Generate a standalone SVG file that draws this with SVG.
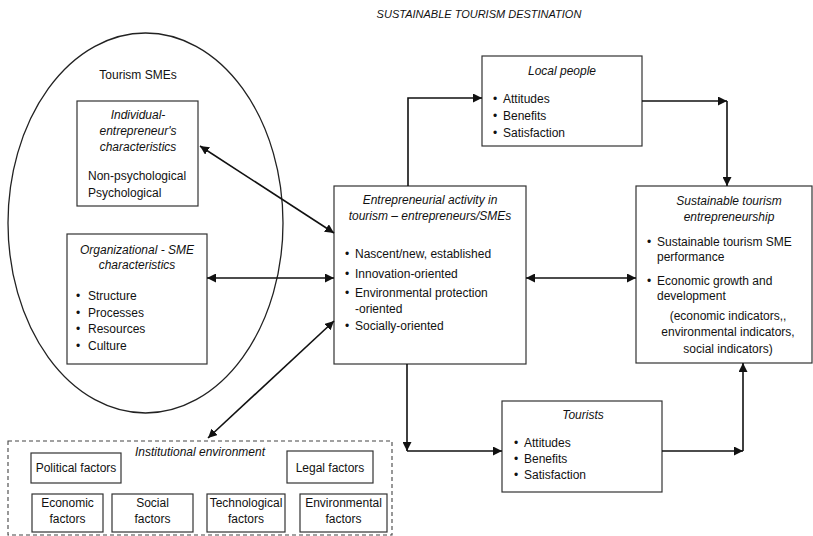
<svg xmlns="http://www.w3.org/2000/svg" width="813" height="536" viewBox="0 0 813 536">
<defs>
<marker id="ah" viewBox="0 0 10 10" refX="10" refY="5" markerWidth="9" markerHeight="9" markerUnits="userSpaceOnUse" orient="auto-start-reverse">
<path d="M0,0 L10,5 L0,10 z" fill="#111"/>
</marker>
<style>
text{font-family:"Liberation Sans",Arial,sans-serif;font-size:12px;fill:#111}
.i{font-style:italic}
.c{text-anchor:middle}
.box{fill:#fff;stroke:#333;stroke-width:1.2}
.ln{fill:none;stroke:#111;stroke-width:1.6}
</style>
</defs>
<rect width="813" height="536" fill="#fff"/>
<text x="479" y="18" class="i c" style="font-size:11px">SUSTAINABLE TOURISM DESTINATION</text>

<g id="tourism-smes">
<ellipse cx="145.5" cy="223" rx="137.5" ry="190" fill="none" stroke="#222" stroke-width="1.3"/>
<text x="138" y="79" class="c">Tourism SMEs</text>
</g>

<g id="individual">
<rect class="box" x="77" y="101" width="121" height="105"/>
<text x="138" y="119" class="i c">Individual-</text>
<text x="138" y="135" class="i c">entrepreneur's</text>
<text x="138" y="151" class="i c">characteristics</text>
<text x="88" y="180">Non-psychological</text>
<text x="88" y="197">Psychological</text>
</g>

<g id="organizational">
<rect class="box" x="67" y="234" width="140" height="130"/>
<text x="137" y="254" class="i c">Organizational - SME</text>
<text x="137" y="269" class="i c">characteristics</text>
<text x="76" y="300">•</text><text x="88" y="300">Structure</text>
<text x="76" y="317">•</text><text x="88" y="317">Processes</text>
<text x="76" y="333">•</text><text x="88" y="333">Resources</text>
<text x="76" y="350">•</text><text x="88" y="350">Culture</text>
</g>

<g id="central">
<rect class="box" x="334" y="186" width="192" height="178"/>
<text x="430" y="204" class="i c">Entrepreneurial activity in</text>
<text x="430" y="220" class="i c">tourism – entrepreneurs/SMEs</text>
<text x="345" y="258">•</text><text x="355" y="258">Nascent/new, established</text>
<text x="345" y="278">•</text><text x="355" y="278">Innovation-oriented</text>
<text x="345" y="297">•</text><text x="355" y="297">Environmental protection</text>
<text x="355" y="313">-oriented</text>
<text x="345" y="330">•</text><text x="355" y="330">Socially-oriented</text>
</g>

<g id="local-people">
<rect class="box" x="482" y="56" width="160" height="90"/>
<text x="562" y="75" class="i c">Local people</text>
<text x="493" y="103">•</text><text x="503" y="103">Attitudes</text>
<text x="493" y="120">•</text><text x="503" y="120">Benefits</text>
<text x="493" y="137">•</text><text x="503" y="137">Satisfaction</text>
</g>

<g id="sustainable">
<rect class="box" x="636" y="186" width="176" height="177"/>
<text x="729" y="205" class="i c">Sustainable tourism</text>
<text x="729" y="221" class="i c">entrepreneurship</text>
<text x="647" y="246">•</text><text x="657" y="246">Sustainable tourism SME</text>
<text x="657" y="261">performance</text>
<text x="647" y="285">•</text><text x="657" y="285">Economic growth and</text>
<text x="657" y="300">development</text>
<text x="728" y="320" class="c">(economic indicators,,</text>
<text x="728" y="336" class="c">environmental indicators,</text>
<text x="728" y="353" class="c">social indicators)</text>
</g>

<g id="tourists">
<rect class="box" x="502" y="401" width="160" height="91"/>
<text x="583" y="419" class="i c">Tourists</text>
<text x="514" y="447">•</text><text x="524" y="447">Attitudes</text>
<text x="514" y="463">•</text><text x="524" y="463">Benefits</text>
<text x="514" y="479">•</text><text x="524" y="479">Satisfaction</text>
</g>

<g id="institutional">
<rect x="8" y="441" width="384" height="94" fill="none" stroke="#444" stroke-width="1.1" stroke-dasharray="4,3"/>
<text x="200" y="456" class="i c">Institutional environment</text>
<rect class="box" x="31" y="453" width="90" height="30"/>
<text x="76" y="472" class="c">Political factors</text>
<rect class="box" x="287" y="451" width="86" height="32"/>
<text x="330" y="472" class="c">Legal factors</text>
<rect class="box" x="32" y="494" width="71" height="38"/>
<text x="67.5" y="507" class="c">Economic</text><text x="67.5" y="523" class="c">factors</text>
<rect class="box" x="112" y="494" width="81" height="38"/>
<text x="152.5" y="507" class="c">Social</text><text x="152.5" y="523" class="c">factors</text>
<rect class="box" x="207" y="494" width="78" height="38"/>
<text x="246" y="507" class="c">Technological</text><text x="246" y="523" class="c">factors</text>
<rect class="box" x="300" y="494" width="87" height="38"/>
<text x="343.5" y="507" class="c">Environmental</text><text x="343.5" y="523" class="c">factors</text>
</g>

<g id="connectors">
<line class="ln" x1="200" y1="146" x2="334" y2="233" marker-start="url(#ah)" marker-end="url(#ah)"/>
<line class="ln" x1="207" y1="278" x2="334" y2="278" marker-start="url(#ah)" marker-end="url(#ah)"/>
<line class="ln" x1="208" y1="438" x2="334" y2="321" marker-start="url(#ah)" marker-end="url(#ah)"/>
<line class="ln" x1="526" y1="278" x2="636" y2="278" marker-start="url(#ah)" marker-end="url(#ah)"/>
<polyline class="ln" points="408,186 408,98 482,98" marker-end="url(#ah)"/>
<line class="ln" x1="642" y1="101" x2="727" y2="101" marker-end="url(#ah)"/>
<line class="ln" x1="727" y1="101" x2="727" y2="186" marker-end="url(#ah)"/>
<line class="ln" x1="407" y1="364" x2="407" y2="451" marker-end="url(#ah)"/>
<line class="ln" x1="407" y1="451" x2="502" y2="451" marker-end="url(#ah)"/>
<line class="ln" x1="662" y1="451" x2="743" y2="451" marker-end="url(#ah)"/>
<line class="ln" x1="743" y1="451" x2="743" y2="363" marker-end="url(#ah)"/>
</g>
</svg>
